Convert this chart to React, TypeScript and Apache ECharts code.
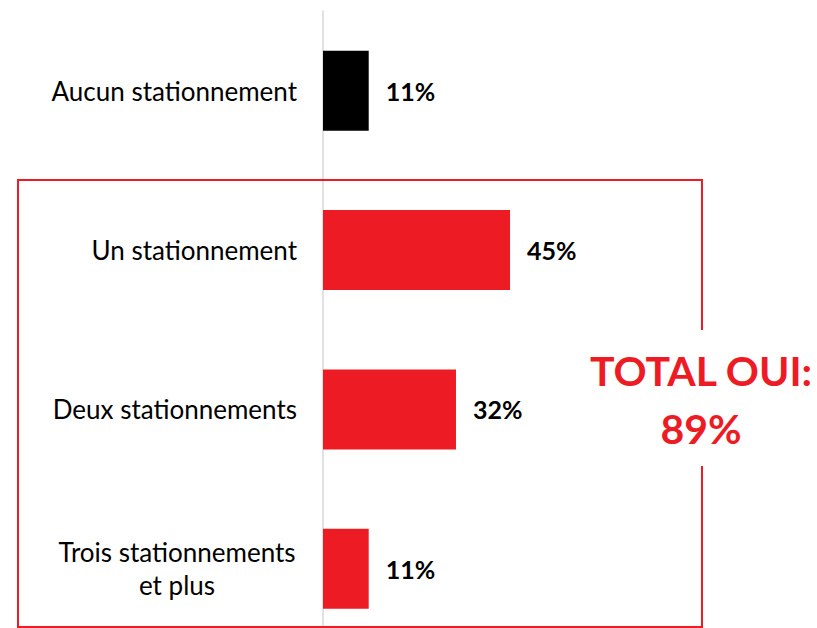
import React, { useEffect, useRef } from "react";
import * as echarts from "echarts";

const categories = [
  "Aucun stationnement",
  "Un stationnement",
  "Deux stationnements",
  "Trois stationnements\net plus",
];
const values = [11, 45, 32, 11];
const barColors = ["#000000", "#ED1C24", "#ED1C24", "#ED1C24"];
const totalText = ["TOTAL OUI:", "89%"];

const FONT = "Lato, 'Open Sans', sans-serif";

export default function App() {
  const ref = useRef<HTMLDivElement>(null);
  useEffect(() => {
    if (!ref.current) return;
    const chart = echarts.init(ref.current, null, { renderer: "svg" });
    chart.setOption({
      animation: false,
      backgroundColor: "#ffffff",
      grid: { left: 323, top: 11, width: 415.6, height: 637.5 },
      xAxis: {
        type: "value",
        min: 0,
        max: 100,
        show: false,
      },
      yAxis: {
        type: "category",
        inverse: true,
        data: categories,
        axisLine: { show: true, lineStyle: { color: "#d9d9d9", width: 1.5 } },
        axisTick: { show: false },
        axisLabel: {
          margin: 26,
          fontFamily: FONT,
          fontSize: 26,
          color: "#000",
          formatter: (v: string) => {
            const lines = v.split("\n");
            if (lines.length > 1) {
              return lines.map((l) => `{c|${l}}`).join("\n");
            }
            return `{r|${v}}`;
          },
          rich: {
            r: { fontFamily: FONT, fontSize: 26, color: "#000", align: "right" },
            c: {
              fontFamily: FONT,
              fontSize: 26,
              color: "#000",
              width: 240,
              align: "center",
              lineHeight: 33,
            },
          },
        },
      },
      series: [
        {
          type: "bar",
          barWidth: 80,
          data: values.map((v, i) => ({ value: v, itemStyle: { color: barColors[i] } })),
          label: {
            show: true,
            position: "right",
            distance: 17,
            formatter: "{c}%",
            fontFamily: FONT,
            fontSize: 25,
            fontWeight: "bold",
            color: "#000",
          },
        },
      ],
      graphic: [
        {
          type: "rect",
          shape: { x: 18, y: 180, width: 684, height: 447 },
          style: { fill: "none", stroke: "#ED1C24", lineWidth: 2 },
          z: 10,
        },
        {
          type: "rect",
          shape: { x: 690, y: 330, width: 30, height: 136 },
          style: { fill: "#ffffff" },
          z: 11,
        },
        {
          type: "text",
          x: 701,
          y: 399,
          z: 12,
          style: {
            text: totalText.join("\n"),
            fill: "#ED1C24",
            fontFamily: FONT,
            fontSize: 41,
            fontWeight: "bold",
            align: "center",
            verticalAlign: "middle",
            lineHeight: 58,
          },
        },
      ],
    });
    return () => chart.dispose();
  }, []);
  return (
    <div
      style={{
        position: "absolute",
        left: 0,
        top: 0,
        width: 817,
        height: 628,
        overflow: "hidden",
      }}
    >
      <div ref={ref} style={{ width: 817, height: 660 }} />
    </div>
  );
}
